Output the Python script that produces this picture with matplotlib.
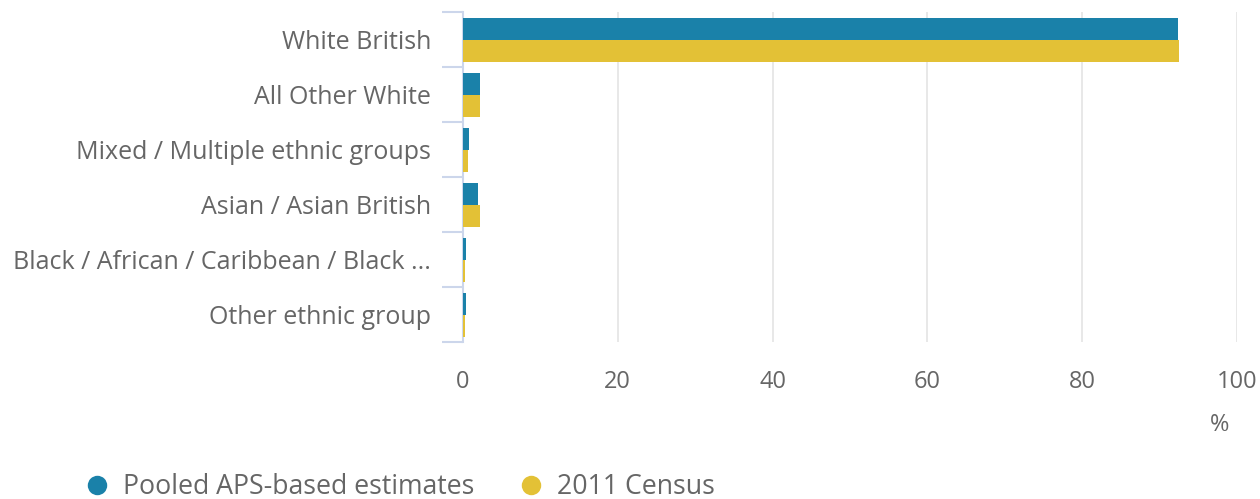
import matplotlib
matplotlib.use("Agg")
import matplotlib.pyplot as plt
from matplotlib.lines import Line2D
import numpy as np

plt.rcParams['font.family'] = ['Open Sans', 'DejaVu Sans']

# Дані
categories = ["White British", "All Other White", "Mixed / Multiple ethnic groups",
              "Asian / Asian British", "Black / African / Caribbean / Black ...",
              "Other ethnic group"]
aps_values = [92.4, 2.2, 0.8, 1.9, 0.4, 0.4]
census_values = [92.5, 2.2, 0.7, 2.2, 0.3, 0.3]
series_names = ["Pooled APS-based estimates", "2011 Census"]
x_ticks = [0, 20, 40, 60, 80, 100]

blue = "#1a81a9"
yellow = "#e3c136"
text_col = "#666666"

fig = plt.figure(figsize=(12.6, 4.99), dpi=100)
ax = fig.add_axes([463 / 1260, 1 - 342 / 499, (1237 - 463) / 1260, (342 - 12) / 499])

y = np.arange(len(categories))
h = 0.4
ax.barh(y - h / 2, aps_values, height=h, color=blue, zorder=3)
ax.barh(y + h / 2, census_values, height=h, color=yellow, zorder=3)

ax.set_xlim(0, 100)
ax.set_ylim(len(categories) - 0.5, -0.5)
ax.set_xticks(x_ticks)
ax.set_xticklabels([str(t) for t in x_ticks])
ax.set_yticks(y)
ax.set_yticklabels(categories, va="center_baseline")

# Сітка
for t in x_ticks[1:]:
  ax.axvline(t, color="#e6e6e6", lw=1.3, zorder=1)

for s in ["top", "right", "bottom"]:
  ax.spines[s].set_visible(False)
ax.spines["left"].set_color("#ccd6eb")
ax.spines["left"].set_linewidth(1.5)

ax.tick_params(axis="x", length=0, pad=20, labelsize=17, labelcolor=text_col)
ax.tick_params(axis="y", which="major", length=0, pad=23, labelsize=18, labelcolor=text_col)
ax.set_yticks(np.arange(-0.5, len(categories), 1), minor=True)
ax.tick_params(axis="y", which="minor", length=15, width=1.5, color="#ccd6eb")

fig.text(1220 / 1260, 1 - 425 / 499, "%", ha="center", va="center", fontsize=17, color=text_col)

handles = [Line2D([0], [0], marker="o", color="none", markerfacecolor=c, markeredgewidth=0,
                  markersize=14, lw=0)
           for c in [blue, yellow]]
fig.legend(handles, series_names, loc="center left", bbox_to_anchor=(70 / 1260, 1 - 487 / 499),
           ncol=2, frameon=False, fontsize=19.2, labelcolor=text_col, handletextpad=0.4,
           columnspacing=1.5, handlelength=1.2, borderaxespad=0)

fig.savefig("out.png", dpi=100)
